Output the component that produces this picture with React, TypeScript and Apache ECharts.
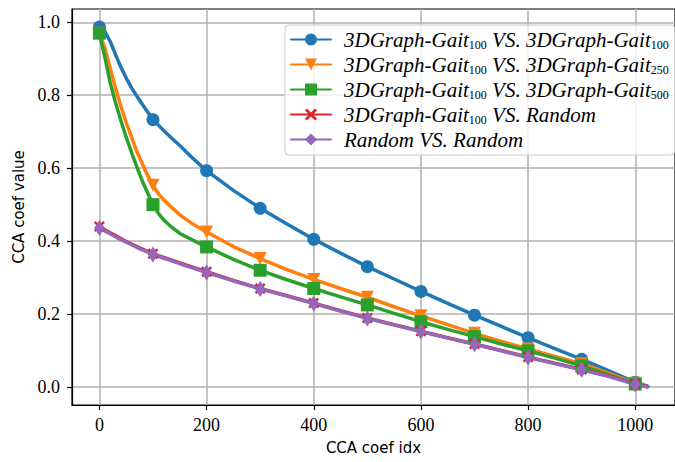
import React, { useEffect, useRef } from "react";
import * as echarts from "echarts";

// CCA coefficient index at which each curve is sampled
const coefIdx = [
  0, 10, 20, 30, 40, 50, 60, 70, 80, 90, 100, 110, 120, 135, 150, 175, 200, 250, 300, 350, 400,
  450, 500, 550, 600, 650, 700, 750, 800, 850, 900, 950, 1000, 1023,
];

// CCA coefficient values for each comparison
const gait100VsGait100 = [
  0.987, 0.975, 0.948, 0.912, 0.877, 0.847, 0.82, 0.797, 0.775, 0.754, 0.733, 0.718, 0.703, 0.682,
  0.662, 0.626, 0.593, 0.539, 0.49, 0.447, 0.405, 0.367, 0.33, 0.296, 0.262, 0.229, 0.197, 0.166,
  0.135, 0.105, 0.076, 0.045, 0.013, 0.002,
];
const gait100VsGait250 = [
  0.97, 0.93, 0.875, 0.82, 0.77, 0.725, 0.685, 0.645, 0.613, 0.58, 0.553, 0.53, 0.513, 0.492, 0.472,
  0.446, 0.425, 0.385, 0.352, 0.322, 0.295, 0.27, 0.246, 0.22, 0.195, 0.171, 0.147, 0.125, 0.104,
  0.084, 0.064, 0.038, 0.01, 0.001,
];
const gait100VsGait500 = [
  0.97, 0.905, 0.835, 0.78, 0.731, 0.685, 0.643, 0.603, 0.565, 0.532, 0.5, 0.476, 0.458, 0.438,
  0.421, 0.402, 0.384, 0.35, 0.32, 0.294, 0.27, 0.247, 0.225, 0.202, 0.179, 0.158, 0.138, 0.118,
  0.099, 0.079, 0.058, 0.034, 0.008, 0.001,
];
const gait100VsRandom = [
  0.44, 0.431, 0.423, 0.415, 0.407, 0.399, 0.392, 0.385, 0.378, 0.371, 0.365, 0.36, 0.355, 0.348,
  0.34, 0.328, 0.316, 0.292, 0.27, 0.25, 0.23, 0.209, 0.189, 0.171, 0.153, 0.135, 0.118, 0.1,
  0.082, 0.065, 0.048, 0.03, 0.008, 0.001,
];
const randomVsRandom = [
  0.436, 0.428, 0.42, 0.412, 0.404, 0.397, 0.39, 0.383, 0.376, 0.37, 0.363, 0.358, 0.353, 0.346,
  0.338, 0.326, 0.314, 0.291, 0.269, 0.249, 0.229, 0.208, 0.188, 0.17, 0.152, 0.134, 0.117, 0.099,
  0.081, 0.064, 0.047, 0.029, 0.007, 0.0,
];

const seriesNames = [
  "3DGraph-Gait_{100} VS. 3DGraph-Gait_{100}",
  "3DGraph-Gait_{100} VS. 3DGraph-Gait_{250}",
  "3DGraph-Gait_{100} VS. 3DGraph-Gait_{500}",
  "3DGraph-Gait_{100} VS. Random",
  "Random VS. Random",
];

const xTicks = [0, 200, 400, 600, 800, 1000];
const yTicks = [0, 0.2, 0.4, 0.6, 0.8, 1.0];

const MARK_EVERY = 100;

const TAB_COLORS = ["#1f77b4", "#ff7f0e", "#2ca02c", "#d62728", "#9467bd"];
const SYMBOLS = [
  "circle",
  "path://M0,0L10,0L5,10Z",
  "rect",
  "path://M0,1.6L1.6,0L5,3.4L8.4,0L10,1.6L6.6,5L10,8.4L8.4,10L5,6.6L1.6,10L0,8.4L3.4,5Z",
  "path://M3.3,0L6.6,5L3.3,10L0,5Z",
];
const SYMBOL_SIZES: (number | number[])[] = [13, 13, 13, 11, 16];

const SERIF = "'Liberation Serif', 'DejaVu Serif', serif";
const SANS = "'DejaVu Sans', sans-serif";

function legendLabel(name: string): string {
  return name
    .split(/_\{(\d+)\}/)
    .map((part, i) => (i % 2 === 1 ? `{sub|${part}}` : part ? `{it|${part}}` : ""))
    .join("");
}

export default function App() {
  const ref = useRef<HTMLDivElement>(null);

  useEffect(() => {
    if (!ref.current) return;
    const chart = echarts.init(ref.current, undefined, { renderer: "svg" });
    const allValues = [
      gait100VsGait100,
      gait100VsGait250,
      gait100VsGait500,
      gait100VsRandom,
      randomVsRandom,
    ];

    const series = allValues.map((vals, s) => ({
      type: "line",
      name: seriesNames[s],
      smooth: false,
      symbol: SYMBOLS[s],
      symbolSize: SYMBOL_SIZES[s],
      symbolKeepAspect: s === 4,
      showSymbol: true,
      showAllSymbol: true,
      color: TAB_COLORS[s],
      lineStyle: { width: 3.5, color: TAB_COLORS[s], join: "round", cap: "round" },
      itemStyle: { color: TAB_COLORS[s] },
      emphasis: { disabled: true },
      data: coefIdx.map((x, i) => ({
        value: [x, vals[i]],
        symbol: x % MARK_EVERY === 0 && x <= 1000 ? SYMBOLS[s] : "none",
      })),
    }));

    chart.setOption({
      animation: false,
      backgroundColor: "#ffffff",
      grid: {
        left: 72,
        top: 9,
        width: 611,
        height: 396,
        show: true,
        borderColor: "#000000",
        borderWidth: 1.2,
        backgroundColor: "transparent",
      },
      xAxis: {
        type: "value",
        min: -51.15,
        max: 1074.15,
        axisLine: { show: true, onZero: false, lineStyle: { color: "#000", width: 1.2 } },
        axisTick: {
          show: true,
          customValues: xTicks,
          length: 5,
          lineStyle: { color: "#000", width: 1.2 },
        },
        axisLabel: {
          customValues: xTicks,
          margin: 11,
          color: "#000",
          fontFamily: SERIF,
          fontSize: 18,
          formatter: (v: number) => String(v),
        },
        splitLine: { show: true, lineStyle: { color: "#b0b0b0", width: 1.5 } },
        name: "CCA coef idx",
        nameLocation: "middle",
        nameGap: 35,
        nameTextStyle: { color: "#000", fontFamily: SANS, fontSize: 15 },
      },
      yAxis: {
        type: "value",
        min: -0.0494,
        max: 1.0364,
        axisLine: { show: true, onZero: false, lineStyle: { color: "#000", width: 1.2 } },
        axisTick: {
          show: true,
          customValues: yTicks,
          length: 5,
          lineStyle: { color: "#000", width: 1.2 },
        },
        axisLabel: {
          customValues: yTicks,
          margin: 12,
          color: "#000",
          fontFamily: SERIF,
          fontSize: 18,
          formatter: (v: number) => v.toFixed(1),
        },
        splitLine: { show: true, lineStyle: { color: "#b0b0b0", width: 1.5 } },
        name: "CCA coef value",
        nameLocation: "middle",
        nameGap: 44,
        nameTextStyle: { color: "#000", fontFamily: SANS, fontSize: 15 },
      },
      legend: {
        orient: "vertical",
        left: 285,
        top: 25,
        itemWidth: 40,
        itemHeight: 15,
        itemGap: 3,
        padding: [4, 6, 5, 5],
        backgroundColor: "rgba(255,255,255,0.8)",
        borderColor: "#cccccc",
        borderWidth: 1,
        borderRadius: 4,
        selectedMode: false,
        formatter: legendLabel,
        textStyle: {
          padding: [0, 0, 0, 8],
          rich: {
            it: {
              fontFamily: SERIF,
              fontStyle: "italic",
              fontSize: 21,
              lineHeight: 23,
              color: "#000",
            },
            sub: {
              fontFamily: SERIF,
              fontSize: 12,
              lineHeight: 6,
              verticalAlign: "bottom",
              color: "#000",
            },
          },
        },
      },
      series,
    });

    return () => chart.dispose();
  }, []);

  return (
    <div
      ref={ref}
      style={{ position: "fixed", left: 0, top: 0, width: 675, height: 462 }}
    />
  );
}
